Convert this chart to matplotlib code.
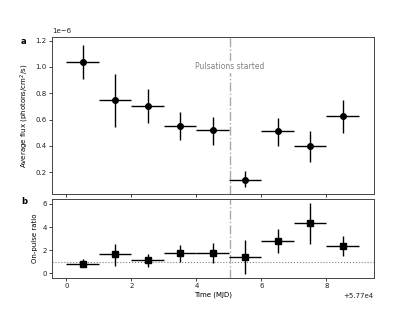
import matplotlib
matplotlib.use("Agg")
import matplotlib.pyplot as plt
import numpy as np

# Data
time = [57700.5, 57701.5, 57702.5, 57703.5, 57704.5, 57705.5, 57706.5, 57707.5, 57708.5]
time_err = [0.5] * 9
flux = [1.04e-6, 0.75e-6, 0.70e-6, 0.552e-6, 0.52e-6, 0.144e-6, 0.51e-6, 0.40e-6, 0.624e-6]
flux_err_lo = [0.13e-6, 0.205e-6, 0.125e-6, 0.107e-6, 0.11e-6, 0.059e-6, 0.11e-6, 0.12e-6, 0.124e-6]
flux_err_hi = [0.13e-6, 0.20e-6, 0.13e-6, 0.108e-6, 0.10e-6, 0.066e-6, 0.105e-6, 0.115e-6, 0.122e-6]
ratio = [0.85, 1.64, 1.15, 1.73, 1.78, 1.44, 2.82, 4.33, 2.39]
ratio_err_lo = [0.33, 0.98, 0.58, 0.73, 0.86, 1.50, 1.09, 1.82, 0.87]
ratio_err_hi = [0.36, 0.90, 0.52, 0.72, 0.82, 1.44, 1.02, 1.77, 0.84]
pulse_start = 57705.03
annot_text = "Pulsations started"

plt.rcParams['font.size'] = 5
plt.rcParams['font.family'] = ['DejaVu Sans']

fig = plt.figure(figsize=(4.15, 3.12), dpi=100)
gs = fig.add_gridspec(2, 1, height_ratios=[2, 1], hspace=0.04,
                      left=0.125, right=0.9, top=0.88, bottom=0.11)
ax1 = fig.add_subplot(gs[0])
ax2 = fig.add_subplot(gs[1], sharex=ax1)

ax1.errorbar(time, flux, xerr=time_err, yerr=[flux_err_lo, flux_err_hi],
             fmt='o', color='black', ms=4, elinewidth=1, capsize=0, zorder=3)
ax1.axvline(pulse_start, color='darkgray', ls='-.', lw=1, zorder=1)
ax1.text(pulse_start, 1.0e-6, annot_text, ha='center', va='center', color='gray',
         fontsize=5.5, bbox=dict(facecolor='white', edgecolor='none', pad=1), zorder=2)
ax1.set_ylabel("Average flux (photons/cm$^2$/s)", labelpad=3)
plt.setp(ax1.get_xticklabels(), visible=False)

ax2.errorbar(time, ratio, xerr=time_err, yerr=[ratio_err_lo, ratio_err_hi],
             fmt='s', color='black', ms=4, elinewidth=1, capsize=0, zorder=3)
ax2.axvline(pulse_start, color='darkgray', ls='-.', lw=1, zorder=1)
ax2.axhline(1.0, color='gray', ls=':', lw=0.8, zorder=1)
ax2.set_ylabel("On-pulse ratio", labelpad=3)
ax2.set_xlabel("Time (MJD)", labelpad=2)
ax2.set_yticks([0, 2, 4, 6])

for ax in (ax1, ax2):
    for sp in ax.spines.values():
        sp.set_color('#444444')
        sp.set_linewidth(0.7)
    ax.tick_params(width=0.6, length=2, pad=1.8, colors='#222222')

fig.text(0.05, 0.858, "a", fontweight='bold', fontsize=6)
fig.text(0.05, 0.345, "b", fontweight='bold', fontsize=6)

fig.savefig("out.png", dpi=100)
